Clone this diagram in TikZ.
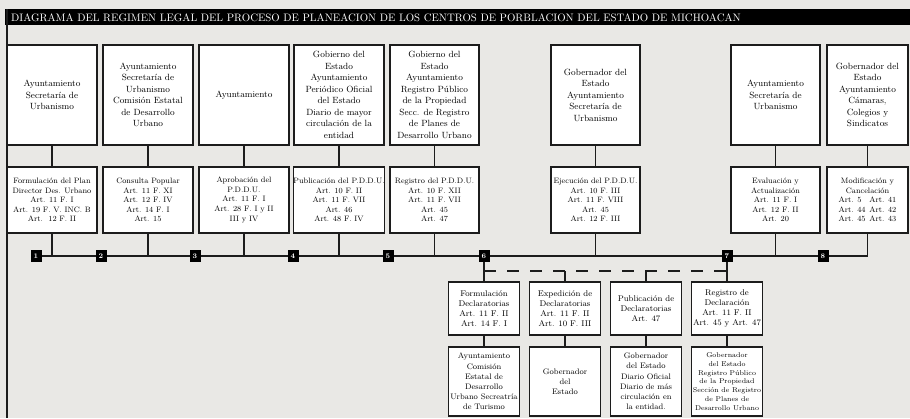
\documentclass[tikz,border=0pt]{standalone}
\usepackage{fontspec}
\usetikzlibrary{positioning}
\definecolor{papel}{RGB}{233,232,229}
\definecolor{tinta}{RGB}{28,28,28}
\def\dy{105pt}
\def\dd{73pt}
\tikzset{organo/.style={draw=tinta,fill=white,line width=1.2pt,minimum width=90pt,minimum height=100pt,inner sep=0pt,align=center,font=\fontsize{9}{11.5}\selectfont},
  etapa/.style={organo,minimum height=66pt,font=\fontsize{7.8}{9.6}\selectfont},
  decl/.style={organo,minimum width=71pt,minimum height=53pt,font=\fontsize{8.3}{10.2}\selectfont},
  resp/.style={decl,minimum height=69pt,font=\fontsize{8}{10.2}\selectfont},
  marca/.style={fill=black,text=white,minimum width=11pt,minimum height=12pt,inner sep=0pt,font=\fontsize{7}{7}\selectfont\bfseries},
  liga/.style={draw=tinta,line width=1.2pt},
  discont/.style={liga,dash pattern=on 12pt off 11pt}}

\begin{document}
\begin{tikzpicture}[x=1pt,y=-1pt,node distance=\dy]
      \fill[papel] (0,0) rectangle (910,418);
      \useasboundingbox (0,0) rectangle (910,418);
      \fill[black] (5,9) rectangle (910,25);
      \node[anchor=west,text=white,inner sep=0pt,font=\fontsize{10.8}{10.8}\selectfont] at (11,17.5) (titulo) {DIAGRAMA DEL REGIMEN LEGAL DEL PROCESO DE PLANEACION DE LOS CENTROS DE PORBLACION DEL ESTADO DE MICHOACAN};
      \draw[liga] (7,9) -- (7,418);
      \node[organo] at (52,95) (ayto1) {Ayuntamiento\\Secretaría de\\Urbanismo};
      \node[organo] at (148,95) (ayto2) {Ayuntamiento\\Secretaría de\\Urbanismo\\Comisión Estatal\\de Desarrollo\\Urbano};
      \node[organo] at (244,95) (ayto3) {Ayuntamiento};
      \node[organo] at (339,95) (gob4) {Gobierno del\\Estado\\Ayuntamiento\\Periódico Oficial\\del Estado\\Diario de mayor\\circulación de la\\entidad};
      \node[organo,minimum width=89pt] at (434.5,95) (gob5) {Gobierno del\\Estado\\Ayuntamiento\\Registro Público\\de la Propiedad\\Secc. de Registro\\de Planes de\\Desarrollo Urbano};
      \node[organo,minimum width=89pt] at (595.5,95) (gob6) {Gobernador del\\Estado\\Ayuntamiento\\Secretaría de\\Urbanismo};
      \node[organo,minimum width=89pt] at (775.5,95) (ayto7) {Ayuntamiento\\Secretaría de\\Urbanismo};
      \node[organo,minimum width=81pt] at (867.5,95) (gob8) {Gobernador del\\Estado\\Ayuntamiento\\Cámaras,\\Colegios y\\Sindicatos};
      \node[etapa] (plan) [below of=ayto1] {Formulación del Plan\\Director Des. Urbano\\Art. 11 F. I\\Art. 19 F. V. INC. B\\Art.\ \ 12 F. II};
      \node[etapa] (consulta) [below of=ayto2] {Consulta Popular\\Art. 11 F. XI\\Art. 12 F. IV\\Art. 14 F. I\\Art. 15};
      \node[etapa] (aprob) [below of=ayto3] {Aprobación del\\P.D.D.U.\\Art. 11 F. I\\Art. 28 F. I y II\\III y IV};
      \node[etapa] (public) [below of=gob4] {Publicación del P.D.D.U.\\Art. 10 F. II\\Art. 11 F. VII\\Art. 46\\Art. 48 F. IV};
      \node[etapa,minimum width=89pt] (regist) [below of=gob5] {Registro del P.D.D.U.\\Art. 10 F. XII\\Art. 11 F. VII\\Art. 45\\Art. 47};
      \node[etapa,minimum width=89pt] (ejec) [below of=gob6] {Ejecución del P.D.D.U.\\Art. 10 F. III\\Art. 11 F. VIII\\Art. 45\\Art. 12 F. III};
      \node[etapa,minimum width=89pt] (evalua) [below of=ayto7] {Evaluación y\\Actualización\\Art. 11 F. I\\Art. 12 F. II\\Art. 20};
      \node[etapa,minimum width=81pt] (modif) [below of=gob8] {Modificación y\\Cancelación\\Art. 5\phantom{4}\enspace Art. 41\\Art. 44\enspace Art. 42\\Art. 45\enspace Art. 43};
      \node[decl] at (484,308.5) (formdecl) {Formulación\\Declaratorias\\Art. 11 F. II\\Art. 14 F. I};
      \node[decl] at (565,308.5) (expdecl) {Expedición de\\Declaratorias\\Art. 11 F. II\\Art. 10 F. III};
      \node[decl] at (646,308.5) (pubdecl) {Publicación de\\Declaratorias\\Art. 47};
      \node[decl] at (727,308.5) (regdecl) {Registro de\\Declaración\\Art. 11 F. II\\Art. 45 y Art. 47};
      \node[resp] (aytodecl) [below of=formdecl,node distance=\dd] {Ayuntamiento\\Comisión\\Estatal de\\Desarrollo\\Urbano Secreatría\\de Turismo};
      \node[resp] (gobexp) [below of=expdecl,node distance=\dd] {Gobernador\\del\\Estado};
      \node[resp] (gobpub) [below of=pubdecl,node distance=\dd] {Gobernador\\del Estado\\Diario Oficial\\Diario de más\\circulación en\\la entidad.};
      \node[resp,font=\fontsize{7}{8.8}\selectfont] (gobreg) [below of=regdecl,node distance=\dd] {Gobernador\\del Estado\\Registro Público\\de la Propiedad\\Sección de Registro\\de Planes de\\Desarrollo Urbano};
      \coordinate (eje) at (36,256);
      \coordinate (rama) at (484,271);
      \draw[liga] (ayto1.south) -- (plan.north) (ayto2.south) -- (consulta.north) (ayto3.south) -- (aprob.north) (gob4.south) -- (public.north)
        (gob5.south) -- (regist.north) (gob6.south) -- (ejec.north) (ayto7.south) -- (evalua.north) (gob8.south) -- (modif.north);
      \draw[liga] (eje) -- (modif.south |- eje) -- (modif.south);
      \draw[liga] (plan.south) -- (plan.south |- eje) (consulta.south) -- (consulta.south |- eje) (aprob.south) -- (aprob.south |- eje)
        (public.south) -- (public.south |- eje) (regist.south) -- (regist.south |- eje) (ejec.south) -- (ejec.south |- eje) (evalua.south) -- (evalua.south |- eje);
      \draw[liga] (formdecl.north |- eje) -- (formdecl.north) (regdecl.north |- eje) -- (regdecl.north);
      \draw[discont] (rama) -- (regdecl.north |- rama);
      \draw[liga] (expdecl.north |- rama) -- (expdecl.north) (pubdecl.north |- rama) -- (pubdecl.north);
      \draw[liga] (formdecl.south) -- (aytodecl.north) (expdecl.south) -- (gobexp.north) (pubdecl.south) -- (gobpub.north) (regdecl.south) -- (gobreg.north);
      \node[marca] at (36,256) (m1) {1};
      \node[marca] at (101,256) (m2) {2};
      \node[marca] at (195,256) (m3) {3};
      \node[marca] at (293,256) (m4) {4};
      \node[marca] at (388,256) (m5) {5};
      \node[marca] at (484,256) (m6) {6};
      \node[marca] at (727,256) (m7) {7};
      \node[marca] at (823,256) (m8) {8};
    \end{tikzpicture}
\end{document}
